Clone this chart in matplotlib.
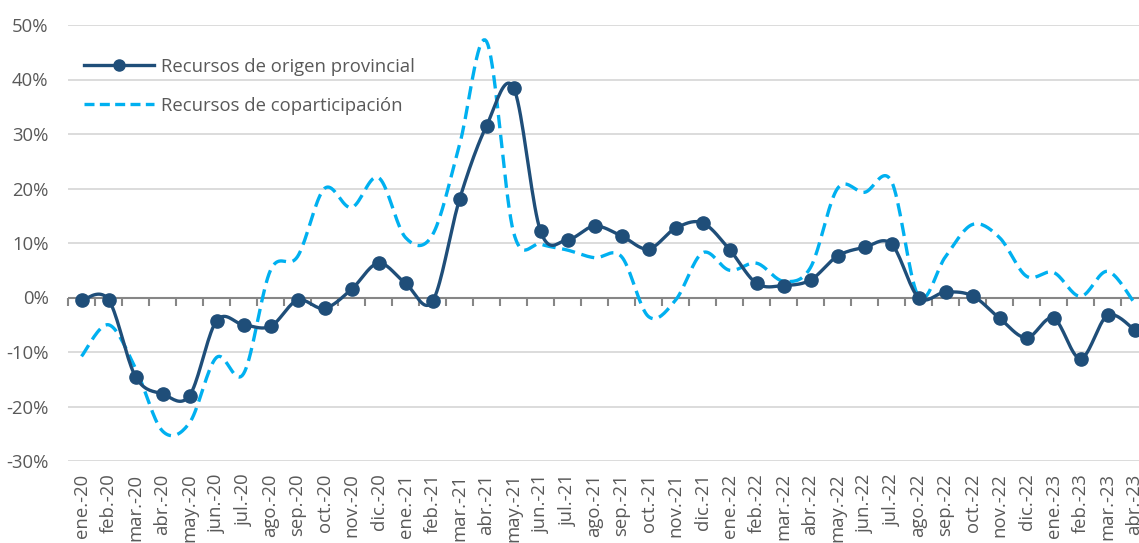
import matplotlib
matplotlib.use("Agg")
import matplotlib.pyplot as plt
import numpy as np

# Meses (ene.-20 a abr.-23)
meses = ["ene.", "feb.", "mar.", "abr.", "may.", "jun.", "jul.", "ago.", "sep.", "oct.", "nov.", "dic."]
categorias = [m + "-" + a for a in ["20", "21", "22"] for m in meses] + ["ene.-23", "feb.-23", "mar.-23", "abr.-23"]

# Variación interanual (%)
origen_provincial = [-0.5, -0.4, -14.5, -17.7, -18.0, -4.3, -5.0, -5.3, -0.5, -2.0,
                     1.5, 6.3, 2.6, -0.7, 18.0, 31.5, 38.5, 12.2, 10.6, 13.1,
                     11.3, 8.9, 12.7, 13.7, 8.8, 2.6, 2.2, 3.2, 7.6, 9.2,
                     9.8, 0.0, 1.0, 0.3, -3.8, -7.4, -3.8, -11.2, -3.3, -5.9]
coparticipacion = [-10.8, -5.0, -13.0, -24.5, -23.0, -11.0, -14.0, 5.0, 7.5, 20.0,
                   16.5, 22.0, 11.0, 11.5, 28.0, 47.0, 12.0, 9.8, 8.7, 7.3,
                   7.5, -3.5, -0.5, 8.2, 5.0, 6.3, 3.0, 5.5, 20.0, 19.3,
                   21.3, 0.2, 7.5, 13.4, 11.0, 3.9, 4.6, 0.2, 4.8, -1.0]


def suavizar(y, n=20):
    # curva suavizada tipo Excel (Bezier con tangentes Catmull-Rom)
    y = np.asarray(y, dtype=float)
    x = np.arange(len(y), dtype=float)
    xp = np.concatenate([[x[0]], x, [x[-1]]])
    yp = np.concatenate([[y[0]], y, [y[-1]]])
    xs, ys = [], []
    t = np.linspace(0, 1, n)
    for i in range(len(y) - 1):
        p0 = np.array([x[i], y[i]])
        p3 = np.array([x[i + 1], y[i + 1]])
        p1 = p0 + (np.array([xp[i + 2], yp[i + 2]]) - np.array([xp[i], yp[i]])) / 6
        p2 = p3 - (np.array([xp[i + 3], yp[i + 3]]) - np.array([xp[i + 1], yp[i + 1]])) / 6
        b = ((1 - t) ** 3)[:, None] * p0 + (3 * (1 - t) ** 2 * t)[:, None] * p1 \
            + (3 * (1 - t) * t ** 2)[:, None] * p2 + (t ** 3)[:, None] * p3
        xs.extend(b[:, 0])
        ys.extend(b[:, 1])
    return np.array(xs), np.array(ys)


plt.rcParams["font.family"] = ["Open Sans", "DejaVu Sans"]
gris = "#595959"
azul = "#1F4E79"
celeste = "#00B0F0"
fs = 13.3

fig = plt.figure(figsize=(11.39, 5.43), dpi=100)
ax = fig.add_axes([68 / 1139, 1 - 461 / 543, 1080 / 1139, 436 / 543])

x = np.arange(len(categorias))

xs, ys = suavizar(origen_provincial)
ax.plot(xs, ys, color=azul, lw=2.4, zorder=4, solid_capstyle="round")
ax.plot(x, origen_provincial, "o", color=azul, ms=9.5, zorder=5)

xs2, ys2 = suavizar(coparticipacion)
ax.plot(xs2, ys2, color=celeste, lw=2.4, linestyle=(0, (4, 2)), zorder=3)

# leyenda
h1, = ax.plot([], [], color=azul, lw=2.4, marker="o", ms=8)
h2, = ax.plot([], [], color=celeste, lw=2.4, linestyle=(0, (3, 1.6)))
ax.legend([h1, h2], ["Recursos de origen provincial", "Recursos de coparticipación"],
          loc="upper left", bbox_to_anchor=(0.0148, 0.925), borderpad=0, borderaxespad=0,
          frameon=False, fontsize=fs, labelcolor=gris, handlelength=3.8,
          handletextpad=0.35, labelspacing=1.15)

ax.set_xlim(-0.5, len(categorias) - 0.5)
ax.set_ylim(-30, 50)
ax.set_yticks(np.arange(-30, 51, 10))
ax.set_yticklabels([f"{v}%" for v in range(-30, 51, 10)])
ax.yaxis.grid(True, color="#D9D9D9", lw=1.3)
ax.set_axisbelow(True)
for s in ax.spines.values():
    s.set_visible(False)

ax.set_xticks(x)
ax.set_xticklabels(categorias, rotation=90)
ax.tick_params(axis="both", length=0, labelcolor=gris, labelsize=fs)
ax.tick_params(axis="y", pad=14)
ax.tick_params(axis="x", pad=9)

# eje en cero con marcas
ax.axhline(0, color="#868686", lw=1.5, zorder=2)
eje0 = ax.secondary_xaxis(30 / 80)
eje0.spines["bottom"].set_visible(False)
eje0.set_xticks(np.arange(-0.5, len(categorias), 1))
eje0.set_xticklabels([])
eje0.tick_params(length=6, width=1.5, color="#868686", direction="out")

fig.savefig("out.png", dpi=100)
